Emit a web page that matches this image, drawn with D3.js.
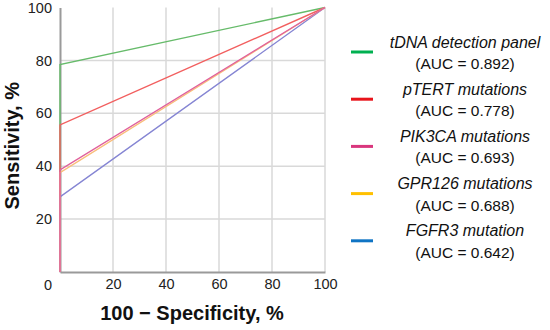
<!DOCTYPE html>
<html>
<head>
<meta charset="utf-8">
<script src="https://cdn.jsdelivr.net/npm/d3@7"></script>
<style>
  body { margin: 0; background: #fff; }
  svg { font-family: "Liberation Sans", Arial, sans-serif; }
</style>
</head>
<body>
<svg id="roc" width="550" height="330"></svg>
<script>
// legend names and AUC values
var names = ["tDNA detection panel", "pTERT mutations", "PIK3CA mutations", "GPR126 mutations", "FGFR3 mutation"];
var aucs = ["0.892", "0.778", "0.693", "0.688", "0.642"];
// sensitivity at 100 - specificity = 0
var sens = [78.4, 55.6, 38.6, 37.6, 28.4];
var lineColors = ["#66bb6a", "#f25f5f", "#e0609c", "#f9bd7a", "#8585d3"];
var legendColors = ["#00b050", "#e8141b", "#d9367d", "#ffc000", "#0f74c4"];
var xTicks = [20, 40, 60, 80, 100];
var yTicks = [20, 40, 60, 80, 100];
// draw order so the overlapping vertical parts look right
var drawOrder = [0, 1, 4, 3, 2];

var svg = d3.select("#roc"),
    plotLeft = 60, plotRight = 325, plotTop = 7.5, plotBottom = 272;

var x = d3.scaleLinear().domain([0, 100]).range([plotLeft, plotRight]);
var y = d3.scaleLinear().domain([0, 100]).range([plotBottom, plotTop]);

// grid
svg.append("g").selectAll("line")
    .data(xTicks)
    .enter().append("line")
    .attr("x1", function (d) { return x(d); })
    .attr("x2", function (d) { return x(d); })
    .attr("y1", y(100)).attr("y2", y(0))
    .attr("stroke", "#d9d9d9").attr("stroke-width", 1.5);

svg.append("g").selectAll("line")
    .data(yTicks.slice(0, 4))
    .enter().append("line")
    .attr("x1", x(0)).attr("x2", x(100))
    .attr("y1", function (d) { return y(d); })
    .attr("y2", function (d) { return y(d); })
    .attr("stroke", "#d9d9d9").attr("stroke-width", 1.5);

// axes
var xAxis = svg.append("g")
    .attr("transform", "translate(0," + y(0) + ")")
    .call(d3.axisBottom(x).tickValues(xTicks).tickSize(0).tickPadding(7));
var yAxis = svg.append("g")
    .attr("transform", "translate(" + x(0) + ",0)")
    .call(d3.axisLeft(y).tickValues(yTicks).tickSize(0).tickPadding(8));

[xAxis, yAxis].forEach(function (a) {
    a.select(".domain").attr("stroke", "#9a9a9a").attr("stroke-width", 2);
    a.selectAll("text").attr("font-size", 14.5).attr("fill", "#222")
        .attr("font-family", "'Liberation Sans', Arial, sans-serif");
});

svg.append("text")
    .attr("x", 48).attr("y", 285)
    .attr("dy", "0.35em")
    .attr("text-anchor", "middle")
    .attr("font-size", 14.5).attr("fill", "#222")
    .text("0");

// ROC curves
var line = d3.line()
    .x(function (d) { return x(d[0]); })
    .y(function (d) { return y(d[1]); });

svg.append("g").selectAll("path")
    .data(drawOrder)
    .enter().append("path")
    .attr("d", function (i) { return line([[0, 0], [0, sens[i]], [100, 100]]); })
    .attr("fill", "none")
    .attr("stroke", function (i) { return lineColors[i]; })
    .attr("stroke-width", 1.4);

// axis titles
svg.append("text")
    .attr("transform", "translate(19," + (y(50) + 6) + ") rotate(-90)")
    .attr("text-anchor", "middle")
    .attr("font-size", 20).attr("font-weight", "bold").attr("fill", "#111")
    .text("Sensitivity, %");

svg.append("text")
    .attr("x", 192).attr("y", 320)
    .attr("text-anchor", "middle")
    .attr("font-size", 20).attr("font-weight", "bold").attr("fill", "#111")
    .text("100 \u2212 Specificity, %");

// legend
var legend = svg.append("g").selectAll("g")
    .data(names)
    .enter().append("g")
    .attr("transform", function (d, i) { return "translate(0," + (52 + i * 47.2) + ")"; });

legend.append("line")
    .attr("x1", 351).attr("x2", 373)
    .attr("stroke", function (d, i) { return legendColors[i]; })
    .attr("stroke-width", 3);

legend.append("text")
    .attr("x", 465).attr("y", -10)
    .attr("dy", "0.35em")
    .attr("text-anchor", "middle")
    .attr("font-size", 16).attr("font-style", "italic").attr("fill", "#111")
    .text(function (d) { return d; });

legend.append("text")
    .attr("x", 465).attr("y", 11.5)
    .attr("dy", "0.35em")
    .attr("text-anchor", "middle")
    .attr("font-size", 15.5).attr("fill", "#111")
    .text(function (d, i) { return "(AUC = " + aucs[i] + ")"; });
</script>
</body>
</html>
